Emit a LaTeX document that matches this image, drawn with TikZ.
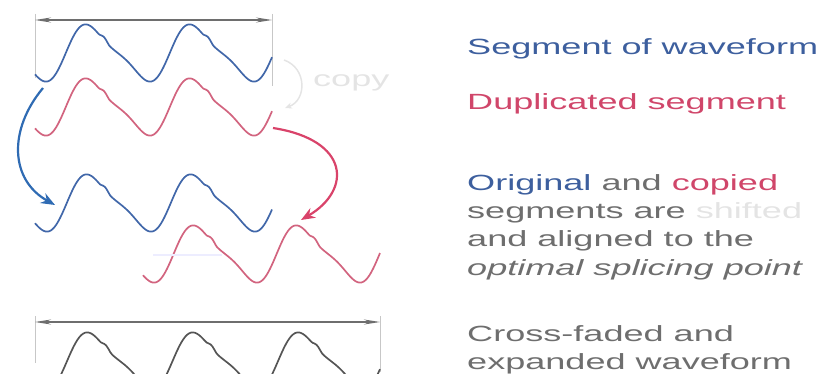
\documentclass[tikz,border=0pt]{standalone}
\usepackage{fontspec}
\newfontfamily\widesans[FakeStretch=1.64]{Liberation Sans}
\usetikzlibrary{arrows.meta}
\definecolor{wavblue}{HTML}{4167A9}
\definecolor{wavred}{HTML}{D2647F}
\definecolor{wavgrey}{HTML}{555555}
\definecolor{arrblue}{HTML}{2F6BB3}
\definecolor{arrred}{HTML}{D9436A}
\definecolor{txtblue}{HTML}{3D5F9E}
\definecolor{txtred}{HTML}{D0466A}
\definecolor{txtgrey}{HTML}{6E6E6E}
\definecolor{faint}{HTML}{E4E4E4}
\tikzstyle{bluewave} = [wavblue, line width=1.7pt, line join=round]
\tikzstyle{redwave} = [wavred, line width=1.7pt, line join=round]
\tikzstyle{greywave} = [wavgrey, line width=1.7pt, line join=round]
\tikzstyle{dimline} = [txtgrey, line width=1.1pt, {Stealth[length=16pt,width=5pt]}-{Stealth[length=16pt,width=5pt]}]
\tikzstyle{tickline} = [black!22, line width=0.9pt]
\tikzstyle{movearrow} = [line width=2.2pt, -{Stealth[length=14pt,width=11pt]}]
\tikzstyle{txt} = [inner sep=0pt, anchor=base west, font=\widesans\fontsize{22}{28}\selectfont]
% #1=style, #2-#3 = x range, #4 = x of a trough, #5 = centre line, #6 = period
\newcommand{\wave}[6]{%
 \draw[#1] plot[domain=#2:#3, samples=180] (\x, {#5 - 26*wf((\x-#4)/#6*360-68.5)});
}

\begin{document}
\begin{tikzpicture}[x=1pt, y=-1pt,
  declare function={wf(\t)=sin(\t)+0.25*sin(2*\t)+0.12*max(0,1-((mod(\t+3600,360)-133)/20)^2)^2;}]

    \useasboundingbox (0,0) rectangle (822,374);
    \clip (0,0) rectangle (822,374);

    \coordinate (S1) at (35,20);
    \coordinate (S2) at (272,20);
    \coordinate (E1) at (35,322);
    \coordinate (E2) at (380,322);

    % span of the segment
    \draw[tickline] (S1) ++(0,-6) -- ++(0,64);
    \draw[tickline] (S2) ++(0,-6) -- ++(0,72);
    \draw[dimline] (S1) -- (S2);

    \wave{bluewave}{35}{272}{46}{53}{104}
    \wave{redwave}{35}{272}{46}{107}{104}

    % copy
    \coordinate (C1) at (284,60);
    \coordinate (C2) at (285,108);
    \draw[faint, line width=1.5pt, -{Stealth[length=7pt,width=6pt]}] (C1) .. controls (307,68) and (307,100) .. (C2);
    \node[txt, text=faint] (copy) at (313,87) {copy};

    % moving the two segments
    \coordinate (B1) at (43,88);
    \coordinate (B2) at (55,205);
    \coordinate (R1) at (273,128);
    \coordinate (R2) at (301,220);
    \draw[movearrow, arrblue] (B1) .. controls (8,130) and (10,180) .. (B2);
    \draw[movearrow, arrred] (R1) .. controls (350,140) and (352,190) .. (R2);

    \wave{bluewave}{35}{272}{47}{203}{104}
    \wave{redwave}{143}{380}{154}{254}{103}

    \coordinate (H1) at (153,255);
    \coordinate (H2) at (222,255);
    \draw[blue!7, line width=1.5pt] (H1) -- (H2);

    % expanded result
    \draw[tickline] (E1) ++(0,-6) -- ++(0,47);
    \draw[tickline] (E2) ++(0,-6) -- ++(0,56);
    \draw[dimline] (E1) -- (E2);
    \wave{greywave}{35}{380}{47}{361}{105.5}

    % labels
    \node[txt, text=txtblue] (t1) at (467,55) {Segment of waveform};
    \node[txt, text=txtred] (t2) at (467,110) {Duplicated segment};
    \node[txt, text=txtgrey] (t3) at (467,191)
        {\textcolor{txtblue}{Original} and \textcolor{txtred}{copied}};
    \node[txt, text=txtgrey] (t4) at (467,219) {segments are \textcolor{faint}{shifted}};
    \node[txt, text=txtgrey] (t5) at (467,247) {and aligned to the};
    \node[txt, text=txtgrey] (t6) at (467,275) {\itshape optimal splicing point};
    \node[txt, text=txtgrey] (t7) at (467,341) {Cross-faded and};
    \node[txt, text=txtgrey] (t8) at (467,369) {expanded waveform};

\end{tikzpicture}
\end{document}
